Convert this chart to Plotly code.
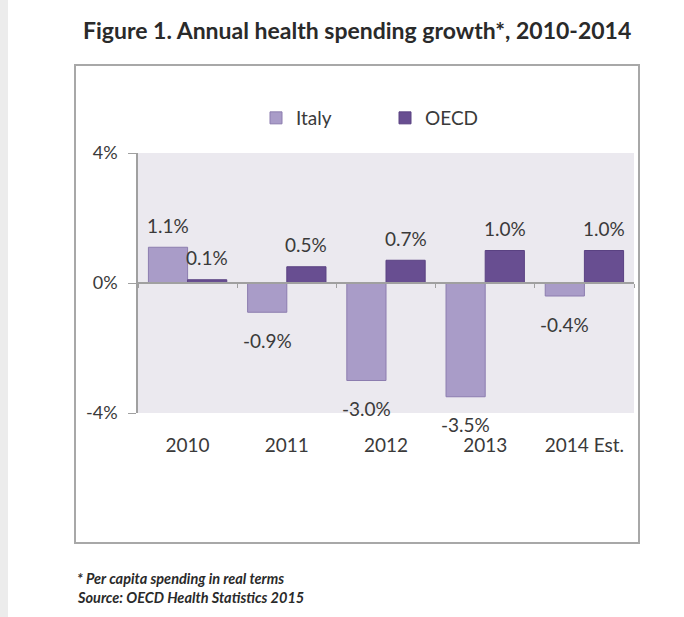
import plotly.graph_objects as go

categories = ["2010", "2011", "2012", "2013", "2014 Est."]
italy = [1.1, -0.9, -3.0, -3.5, -0.4]
oecd = [0.1, 0.5, 0.7, 1.0, 1.0]
y_ticks = [-4, 0, 4]
y_ticklabels = ["-4%", "0%", "4%"]

ITALY_C = "#a99cc8"
OECD_C = "#684e91"
TXT = "#3a3a3a"
FONT = "Lato"

W, H = 684, 617
L, R, T, B = 138, 50, 153, 204
pw, ph = W - L - R, H - T - B
BARGAP = 0.21
bar_px = pw / len(categories) * (1 - BARGAP) / 2

def px(x):
    return (x - L) / pw

def py(y):
    return (H - B - y) / ph

fig = go.Figure()
fig.add_trace(go.Bar(
    name="Italy", x=categories, y=italy,
    marker=dict(color=ITALY_C, line=dict(color="#8c7daf", width=1)),
))
fig.add_trace(go.Bar(
    name="OECD", x=categories, y=oecd,
    marker=dict(color=OECD_C, line=dict(color="#5a4282", width=1)),
))
# invisible helper trace for the zero-line category axis
fig.add_trace(go.Scatter(x=categories, y=[None] * len(categories), xaxis="x2",
                         mode="lines", showlegend=False, hoverinfo="skip"))

# value labels: placed at each category (by its serial index on the category axis)
annotations = []
for series, side in ((italy, -1), (oecd, 1)):
    for idx, v in enumerate(series):
        annotations.append(dict(
            x=idx, y=v, xref="x", yref="y", text=f"{v:.1f}%", showarrow=False,
            xanchor="center", yanchor="middle",
            xshift=side * bar_px / 2, yshift=22 if v >= 0 else -28,
            font=dict(size=19, color=TXT, family=FONT)))

annotations += [
    dict(text="<b>Figure 1. Annual health spending growth*, 2010-2014</b>",
         xref="paper", yref="paper", x=px(357), y=py(30), xanchor="center", yanchor="middle",
         showarrow=False, font=dict(size=23, color="#2a2a2a", family=FONT)),
    dict(text="<b><i>* Per capita spending in real terms</i></b>",
         xref="paper", yref="paper", x=px(75), y=py(578), xanchor="left", yanchor="middle",
         showarrow=False, font=dict(size=14.5, color="#2a2a2a", family=FONT)),
    dict(text="<b><i>Source: OECD Health Statistics 2015</i></b>",
         xref="paper", yref="paper", x=px(75), y=py(597), xanchor="left", yanchor="middle",
         showarrow=False, font=dict(size=14.5, color="#2a2a2a", family=FONT)),
]

fig.update_layout(
    width=W, height=H,
    margin=dict(l=L, r=R, t=T, b=B),
    paper_bgcolor="white", plot_bgcolor="#ebe9ef",
    barmode="group", bargap=BARGAP, bargroupgap=0,
    font=dict(family=FONT, color=TXT, size=15),
    showlegend=True,
    legend=dict(orientation="h", x=px(385), xanchor="center", y=py(118), yanchor="middle",
                entrywidth=84, font=dict(size=19, color=TXT, family=FONT),
                bgcolor="rgba(0,0,0,0)"),
    xaxis=dict(type="category", categoryorder="array", categoryarray=categories,
               showline=False, ticks="", showgrid=False, zeroline=False,
               ticklabelstandoff=19, tickfont=dict(size=19, color=TXT, family=FONT)),
    xaxis2=dict(type="category", overlaying="x", matches="x", anchor="free", position=0.5,
                showline=True, linecolor="#a0a0a0", linewidth=1.5,
                ticks="outside", tickson="boundaries", ticklen=4, tickcolor="#a0a0a0",
                showticklabels=False, showgrid=False, zeroline=False),
    yaxis=dict(range=[-4, 4], tickvals=y_ticks, ticktext=y_ticklabels,
               showline=True, linecolor="#a0a0a0", linewidth=1.5,
               ticks="outside", ticklen=8, tickcolor="#a0a0a0",
               showgrid=False, zeroline=False, ticklabelstandoff=7,
               tickfont=dict(size=18, color=TXT, family=FONT)),
    shapes=[
        dict(type="rect", xref="paper", yref="paper",
             x0=px(75), x1=px(639), y0=py(543), y1=py(65),
             line=dict(color="#a8a8a8", width=2), fillcolor="rgba(0,0,0,0)", layer="below"),
        dict(type="rect", xref="paper", yref="paper",
             x0=px(0), x1=px(8), y0=py(617), y1=py(0),
             line=dict(width=0), fillcolor="#ececec", layer="below"),
    ],
    annotations=annotations,
)

fig.write_html("out.html", config={"displayModeBar": False},
               post_script="document.body.style.margin='0';")
